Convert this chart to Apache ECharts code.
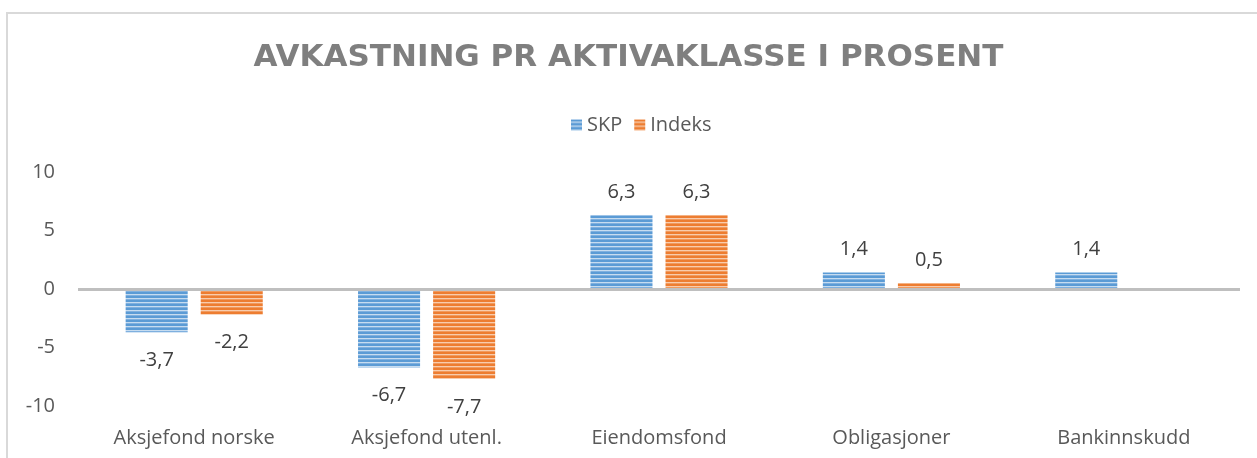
<!DOCTYPE html>
<html>
<head>
<meta charset="utf-8">
<script src="https://cdn.jsdelivr.net/npm/echarts@6/dist/echarts.min.js"></script>
<style>
  html, body { margin: 0; padding: 0; background: #fff; }
  #chart { width: 1257px; height: 458px; }
</style>
</head>
<body>
<div id="chart"></div>
<script>
var categories = ['Aksjefond norske', 'Aksjefond utenl.', 'Eiendomsfond', 'Obligasjoner', 'Bankinnskudd'];
var skpValues = [-3.7, -6.7, 6.3, 1.4, 1.4];
var indeksValues = [-2.2, -7.7, 6.3, 0.5, null];
var yTicks = [-10, -5, 0, 5, 10];

// horizontal stripes like the excel fill
function stripes(base, light, mid) {
    var c = document.createElement('canvas');
    c.width = 4;
    c.height = 4;
    var ctx = c.getContext('2d');
    ctx.fillStyle = base; ctx.fillRect(0, 0, 4, 2);
    ctx.fillStyle = light; ctx.fillRect(0, 2, 4, 1);
    ctx.fillStyle = mid; ctx.fillRect(0, 3, 4, 1);
    return { image: c, repeat: 'repeat' };
}

function fmt(v) {
    return String(v).replace('.', ',');
}

function makeData(values) {
    return values.map(function (v) {
        if (v === null) return '-';
        return {
            value: v,
            label: v < 0 ? { position: 'bottom', distance: 18 } : { position: 'top', distance: 13 }
        };
    });
}

var font = 'Open Sans';
var chart = echarts.init(document.getElementById('chart'));

var labelStyle = {
    show: true,
    color: '#404040',
    fontFamily: font,
    fontSize: 20,
    formatter: function (p) { return fmt(p.value); }
};

var option = {
    animation: false,
    title: {
        text: 'AVKASTNING PR AKTIVAKLASSE I PROSENT',
        left: 'center',
        top: 37,
        textStyle: {
            color: '#7f7f7f',
            fontFamily: 'DejaVu Sans',
            fontWeight: 'bold',
            fontSize: 31
        }
    },
    legend: {
        left: 566,
        top: 110,
        itemWidth: 11,
        itemHeight: 11,
        itemGap: 12,
        icon: 'rect',
        textStyle: { color: '#595959', fontFamily: font, fontSize: 20 },
        data: ['SKP', 'Indeks']
    },
    grid: {
        left: 78,
        right: 17,
        top: 172,
        bottom: 52
    },
    graphic: [{
        type: 'rect',
        silent: true,
        shape: { x: 7, y: 13, width: 1400, height: 600 },
        style: { fill: null, stroke: '#d9d9d9', lineWidth: 2 }
    }],
    xAxis: {
        type: 'category',
        data: categories,
        axisLine: { show: false, onZero: false },
        axisTick: { show: false },
        axisLabel: { color: '#595959', fontFamily: font, fontSize: 20, margin: 22 }
    },
    yAxis: {
        type: 'value',
        min: yTicks[0],
        max: yTicks[yTicks.length - 1],
        interval: 5,
        splitLine: { show: false },
        axisLine: { show: false },
        axisTick: { show: false },
        axisLabel: { color: '#595959', fontFamily: font, fontSize: 20, margin: 23 }
    },
    series: [
        {
            name: 'SKP',
            type: 'bar',
            data: makeData(skpValues),
            barGap: '21%',
            barCategoryGap: '41%',
            itemStyle: { color: stripes('#5b9bd5', '#c6dcf0', '#7fb0df') },
            label: labelStyle,
            markLine: {
                silent: true,
                symbol: 'none',
                label: { show: false },
                lineStyle: { color: '#bfbfbf', width: 3, type: 'solid' },
                data: [{ yAxis: 0 }]
            }
        },
        {
            name: 'Indeks',
            type: 'bar',
            data: makeData(indeksValues),
            itemStyle: { color: stripes('#ed7d31', '#f8ccad', '#f19a5e') },
            label: labelStyle
        }
    ]
};

chart.setOption(option);
</script>
</body>
</html>
